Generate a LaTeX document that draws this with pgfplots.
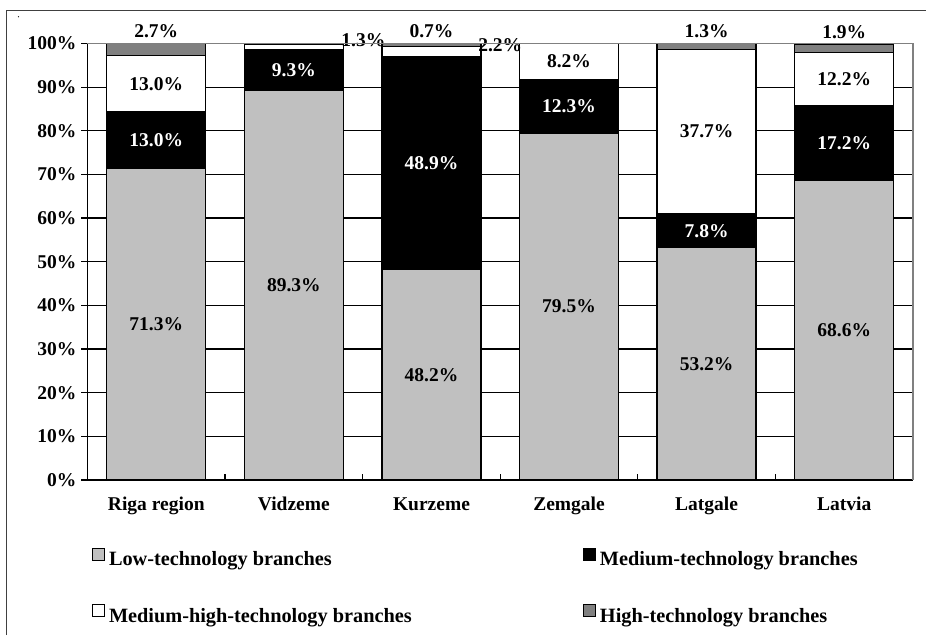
\documentclass[border=0pt]{standalone}
\usepackage{pgfplots}
\pgfplotsset{compat=1.18}
\usepackage{pgfplotstable}
\usepackage{fontspec}
\setmainfont{Liberation Serif}
\definecolor{lowc}{RGB}{192,192,192}
\definecolor{highc}{RGB}{128,128,128}
\definecolor{framec}{RGB}{64,64,64}
\pgfplotstableread{
x low med mh high dx dy
0 71.3 13.0 13.0 2.7 0 0
1 89.3 9.3 1.3 0.0 69.5 6.8
2 48.2 48.9 2.2 0.7 68.8 6.4
3 79.5 12.3 8.2 0.0 0 0
4 53.2 7.8 37.7 1.3 0 0
5 68.6 17.2 12.2 1.9 0 0
}\datatable
\begin{document}
\begin{tikzpicture}[font=\fontsize{19.5}{22}\selectfont\bfseries]
\path[use as bounding box] (0,0) rectangle (926pt,635pt);
\draw[framec, line width=1.2pt] (6.5pt,0) -- (6.5pt,624.5pt) -- (926pt,624.5pt);
\fill[black] (18.5pt,618.3pt) circle (0.6pt);
\begin{axis}[
  at={(87.5pt,155pt)}, anchor=south west,
  scale only axis, width=825.5pt, height=436.5pt,
  ybar stacked, bar width=99pt,
  xmin=-0.5, xmax=5.5, ymin=0, ymax=100,
  clip=false,
  axis x line*=bottom, axis y line*=left,
  axis line style={black, line width=1.2pt},
  xtick={-0.5,0.5,...,5.5}, x tick label as interval,
  xticklabels={Riga region,Vidzeme,Kurzeme,Zemgale,Latgale,Latvia},
  ytick={0,10,...,100},
  yticklabels={0\%,10\%,20\%,30\%,40\%,50\%,60\%,70\%,80\%,90\%,100\%},
  xtick align=inside, ytick align=outside,
  major tick length=6pt,
  tick style={black, line width=1.2pt},
  ymajorgrids, grid style={black, line width=1.2pt},
  xticklabel style={inner sep=0pt, text height=14pt, text depth=4pt, anchor=north},
  xticklabel shift=16pt,
  yticklabel style={inner sep=0pt, text height=13pt, text depth=0pt, anchor=east},
  yticklabel shift=5pt,
  every axis plot/.append style={draw=black, line width=1.3pt},
  point meta=explicit,
  nodes near coords={\pgfmathprintnumber[fixed,fixed zerofill,precision=1,assume math mode=true]{\pgfplotspointmeta}\%},
  every node near coord/.append style={inner sep=0pt, text height=13pt, text depth=0pt, font=\fontsize{19.5}{22}\selectfont\bfseries},
  legend columns=2,
  legend cell align=left,
  legend style={draw=none, fill=none, inner sep=0pt, outer sep=0pt,
    at={(axis description cs:0,0)}, anchor=north west, xshift=4.5pt, yshift=-68pt,
    column sep=4pt, row sep=34pt, font=\fontsize{20.3}{22}\selectfont\bfseries,
    nodes={inner sep=0pt, text height=14pt, text depth=4.5pt}},
  legend image code/.code={\draw[#1,draw=black,line width=1pt] (0pt,0.5pt) rectangle (12pt,12.5pt);},
  after end axis/.code={
    \draw[highc, line width=1.2pt] (rel axis cs:0,1) -- (rel axis cs:1,1) -- (rel axis cs:1,0);
  },
]
\addplot[fill=lowc,
  every node near coord/.append style={anchor=center}]
  table[x=x, y=low, meta=low] {\datatable};
\addplot[fill=black,
  every node near coord/.append style={anchor=center, text=white}]
  table[x=x, y=med, meta=med] {\datatable};
\addplot[fill=white,
  visualization depends on={\thisrow{dx} \as \ldx},
  visualization depends on={\thisrow{dy} \as \ldy},
  every node near coord/.append style={anchor=center, xshift={\ldx*1pt}, yshift={\ldy*1pt}}]
  table[x=x, y=mh, meta=mh] {\datatable};
\addplot[fill=highc, visualization depends on={\thisrow{high} \as \rawy},
  every node near coord/.append style={anchor=south, yshift={\rawy*2.1825pt+5pt}}]
  table[x=x, y=high, meta=high] {\datatable};
\legend{\makebox[470pt][l]{Low-technology branches},Medium-technology branches,\makebox[470pt][l]{Medium-high-technology branches},High-technology branches}
\end{axis}
\end{tikzpicture}
\end{document}
